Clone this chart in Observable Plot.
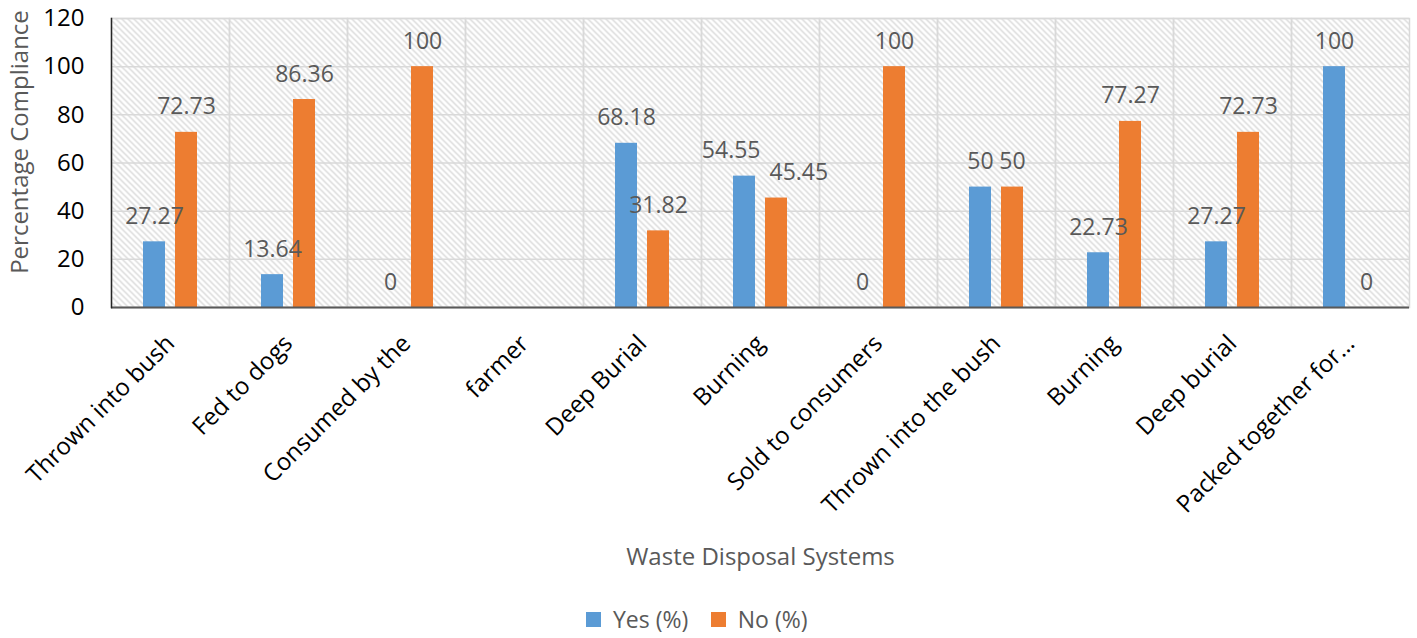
<!DOCTYPE html>
<html><head><meta charset="utf-8">
<script src="https://cdn.jsdelivr.net/npm/d3@7"></script>
<script src="https://cdn.jsdelivr.net/npm/@observablehq/plot@0.6"></script>
<style>
body{margin:0;background:#fff;font-family:"Open Sans",sans-serif;}
#legend{display:flex;justify-content:center;align-items:center;height:38px;padding-top:12px;box-sizing:border-box;}
</style></head><body><div id="chart"></div><div id="legend"></div>
<script>
const categories = ["Thrown into bush","Fed to dogs","Consumed by the","farmer","Deep Burial","Burning","Sold to consumers","Thrown into the bush","Burning","Deep burial","Packed together for\u2026"];
const yesValues = [27.27,13.64,0,null,68.18,54.55,0,50,22.73,27.27,100];
const noValues = [72.73,86.36,100,null,31.82,45.45,100,50,77.27,72.73,0];
const seriesNames = ["Yes (%)","No (%)"];
const seriesColors = ["#5b9bd5","#ed7d31"];
const yTicks = [0,20,40,60,80,100,120];
const yTitle = "Percentage Compliance";
const xTitle = "Waste Disposal Systems";

const categoryIndex = categories.map((_, i) => i);
const rows = [];
categories.forEach((c, i) => {
  [yesValues, noValues].forEach((vals, s) => {
    rows.push({key: i, category: c, series: seriesNames[s], value: vals[i]});
  });
});
// labels whose pair values are close (but not equal) are pushed apart, as the chart does
const isClose = d => yesValues[d.key] != null && noValues[d.key] != null &&
  yesValues[d.key] !== noValues[d.key] && Math.abs(yesValues[d.key] - noValues[d.key]) < 12;
const labelled = rows.filter(d => d.value != null);
const plainLabels = labelled.filter(d => !isClose(d));
const yesClose = labelled.filter(d => isClose(d) && d.series === seriesNames[0]);
const noClose = labelled.filter(d => isClose(d) && d.series === seriesNames[1]);

const font = "'Open Sans', sans-serif";
const labelStyle = {fx: "key", x: "series", y: "value", text: d => String(d.value), lineAnchor: "bottom", dy: -18, fill: "#595959", fontSize: 23};
const chart = Plot.plot({
  width: 1417, height: 600,
  marginLeft: 110, marginRight: 7, marginTop: 18, marginBottom: 293,
  style: {fontFamily: font, background: "#fff", overflow: "visible"},
  fx: {domain: categoryIndex, paddingInner: 0, paddingOuter: 0, label: null},
  x: {domain: seriesNames, paddingInner: 0.3, paddingOuter: 0.94, axis: null},
  y: {domain: [0, 120]},
  color: {domain: seriesNames, range: seriesColors},
  marks: [
    Plot.frame({fill: "url(#hatch)", stroke: null}),
    Plot.gridY(yTicks, {stroke: "#d9d9d9", strokeOpacity: 1, strokeWidth: 1.5}),
    Plot.frame({stroke: "#d9d9d9", strokeWidth: 1.5}),
    Plot.barY(rows, {fx: "key", x: "series", y: "value", fill: "series"}),
    Plot.text(plainLabels, labelStyle),
    Plot.text(yesClose, {...labelStyle, textAnchor: "end", dx: 16}),
    Plot.text(noClose, {...labelStyle, textAnchor: "start", dx: -7}),
    Plot.ruleY([0], {stroke: "#595959", strokeWidth: 2}),
    Plot.frame({anchor: "left", stroke: "#262626", strokeWidth: 1.5, facetAnchor: "left"}),
    Plot.axisY(yTicks, {tickSize: 0, tickPadding: 27, fontSize: 24, fill: "#000", label: null}),
    Plot.text([yTitle], {frameAnchor: "left", textAnchor: "middle", rotate: -90, dx: -91, dy: -21, lineAnchor: "middle", fill: "#595959", fontSize: 24, facetAnchor: "left"}),
    Plot.axisFx({anchor: "bottom", tickRotate: -45, tickSize: 0, tickPadding: 32, tickFormat: i => categories[i], fontSize: 24, fill: "#000", label: null}),
    Plot.axisFx([], {anchor: "bottom", label: xTitle, labelAnchor: "center", labelOffset: 257, fill: "#595959", fontSize: 24, tickSize: 0})
  ]
});

const defs = d3.select(chart).insert("defs", ":first-child");
const pat = defs.append("pattern").attr("id", "hatch").attr("patternUnits", "userSpaceOnUse").attr("width", 6).attr("height", 6);
pat.append("rect").attr("width", 6).attr("height", 6).attr("fill", "#fff");
pat.append("path").attr("d", "M-1,-1L7,7M-1,5L1,7M5,-1L7,1").attr("stroke", "#d6d6d6").attr("stroke-width", 1.3);
document.getElementById("chart").appendChild(chart);

const legend = Plot.legend({color: {domain: seriesNames, range: seriesColors}, swatchSize: 15});
legend.style.fontFamily = font;
legend.style.fontSize = "23px";
legend.style.color = "#595959";
legend.style.justifyContent = "center";
legend.style.marginLeft = "0";
document.getElementById("legend").appendChild(legend);
</script></body></html>
